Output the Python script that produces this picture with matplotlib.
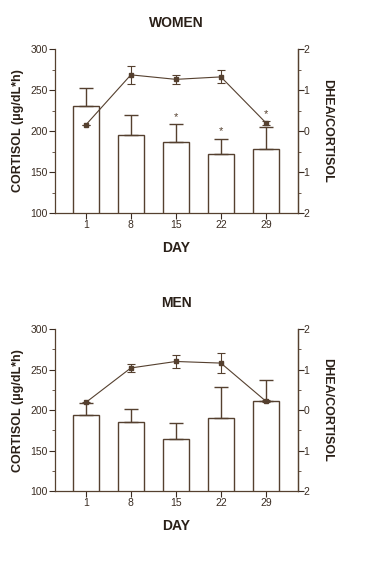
import matplotlib.pyplot as plt
import numpy as np

plt.rcParams['font.family'] = ['Liberation Sans', 'DejaVu Sans']

# data
days = [1, 8, 15, 22, 29]

women_cortisol = [231, 195, 187, 172, 178]
women_cortisol_err = [22, 24, 21, 18, 27]
women_ratio = [0.15, 1.37, 1.26, 1.32, 0.20]
women_ratio_err = [0.0, 0.22, 0.11, 0.16, 0.05]
women_stars_bar = [15, 22]
women_stars_line = [29]

men_cortisol = [194, 185, 165, 190, 211]
men_cortisol_err = [15, 16, 19, 38, 26]
men_ratio = [0.19, 1.04, 1.20, 1.16, 0.22]
men_ratio_err = [0.02, 0.10, 0.17, 0.25, 0.03]

col = '#55402f'


def panel(rect, title, cort, cort_err, ratio, ratio_err, stars_bar=(), stars_line=()):
    ax = fig.add_axes(rect)
    ax.bar(days, cort, width=4, bottom=0, color='white', edgecolor=col, linewidth=1.0, zorder=2)
    ax.errorbar(days, cort, yerr=[np.zeros(len(cort)), cort_err], fmt='none',
                ecolor=col, elinewidth=1.0, capsize=5, capthick=1.0, zorder=3)
    ax.set_xlim(-3.8, 34)
    ax.set_ylim(100, 300)
    ax.set_xticks(days)
    ax.set_yticks([100, 150, 200, 250, 300])
    ax.set_yticks([125, 175, 225, 275], minor=True)
    ax.spines['top'].set_visible(False)
    for s in ['left', 'bottom', 'right']:
        ax.spines[s].set_color(col)
        ax.spines[s].set_linewidth(0.9)
    ax.tick_params(colors='#3a2c22', labelsize=7.5, length=4, width=0.8, pad=1)
    ax.tick_params(which='minor', length=2.5, width=0.6, colors=col)
    ax.set_xlabel('DAY', fontsize=10, fontweight='bold', color='#2a2018', labelpad=8)
    ax.set_ylabel('CORTISOL (\u03bcg/dL*h)', fontsize=9, fontweight='bold', color='#2a2018', labelpad=5)
    ax.set_title(title, fontsize=10, fontweight='bold', color='#2a2018', pad=16)

    for d in stars_bar:
        i = days.index(d)
        ax.annotate('*', (d, cort[i] + cort_err[i]), xytext=(0, 2), textcoords='offset points',
                    ha='center', va='bottom', fontsize=8, color=col)

    ax2 = ax.twinx()
    ax2.errorbar(days, ratio, yerr=ratio_err, fmt='-s', color=col, markersize=3,
                 linewidth=0.8, elinewidth=0.8, capsize=3, capthick=0.8, zorder=4)
    ax2.set_ylim(-2, 2)
    ax2.set_yticks([-2, -1, 0, 1, 2])
    ax2.set_yticklabels(['2', '1', '0', '1', '2'])
    ax2.set_yticks([-1.5, -0.5, 0.5, 1.5], minor=True)
    for s in ['top', 'left', 'bottom']:
        ax2.spines[s].set_visible(False)
    ax2.spines['right'].set_color(col)
    ax2.spines['right'].set_linewidth(0.9)
    ax2.tick_params(colors='#3a2c22', labelsize=7.5, length=4, width=0.8, pad=0)
    ax2.tick_params(which='minor', length=2.5, width=0.6, colors=col)
    ax2.set_ylabel('DHEA/CORTISOL', rotation=-90, fontsize=9, fontweight='bold',
                   color='#2a2018', labelpad=17)
    for d in stars_line:
        i = days.index(d)
        ax2.annotate('*', (d, ratio[i] + ratio_err[i]), xytext=(0, 1), textcoords='offset points',
                     ha='center', va='bottom', fontsize=8, color=col)
    return ax, ax2


fig = plt.figure(figsize=(3.7, 5.72), dpi=100)

panel([0.1486, 0.6276, 0.657, 0.2867], 'WOMEN', women_cortisol, women_cortisol_err,
      women_ratio, women_ratio_err, women_stars_bar, women_stars_line)
panel([0.1486, 0.1411, 0.657, 0.2837], 'MEN', men_cortisol, men_cortisol_err,
      men_ratio, men_ratio_err)

fig.savefig('out.png', dpi=100)
